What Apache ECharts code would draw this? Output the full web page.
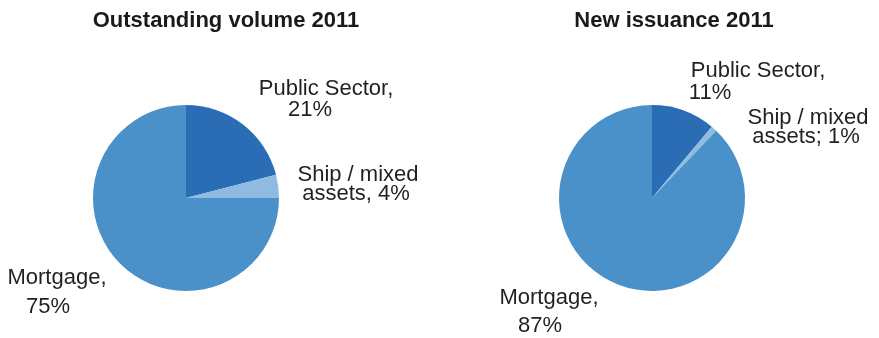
<!DOCTYPE html>
<html>
<head>
<meta charset="utf-8">
<script src="https://cdn.jsdelivr.net/npm/echarts@6/dist/echarts.min.js"></script>
<style>
  html, body { margin: 0; padding: 0; background: #fff; }
  #chart { width: 879px; height: 338px; }
</style>
</head>
<body>
<div id="chart"></div>
<script>
// Segment names and shares (percent) for the two pies
const categories = ['Public Sector', 'Ship / mixed assets', 'Mortgage'];
const outstandingValues = [21, 4, 75];
const issuanceValues = [11, 1, 87];
const titles = ['Outstanding volume 2011', 'New issuance 2011'];

// Two-line slice captions as printed beside each pie
const outstandingCaptions = [
  ['Public Sector,', outstandingValues[0] + '%'],
  ['Ship / mixed', 'assets, ' + outstandingValues[1] + '%'],
  ['Mortgage,', outstandingValues[2] + '%']
];
const issuanceCaptions = [
  ['Public Sector,', issuanceValues[0] + '%'],
  ['Ship / mixed', 'assets; ' + issuanceValues[1] + '%'],
  ['Mortgage,', issuanceValues[2] + '%']
];

const colors = ['#2a6db4', '#8fbbe3', '#4b91c9'];
const FONT = '"Liberation Sans", Arial, Helvetica, sans-serif';
const TEXT = '#231f20';

// Caption placement: [line1 centerX, line1 baseline, line2 centerX, line2 baseline]
const outstandingPlaces = [
  [326, 96, 310, 117],
  [358, 182, 356, 201],
  [57, 285, 48, 314]
];
const issuancePlaces = [
  [758, 78, 710, 100],
  [808, 125, 806, 144],
  [549, 305, 540, 333]
];

function captionGraphics(captions, places) {
  const out = [];
  captions.forEach((lines, i) => {
    const p = places[i];
    [0, 1].forEach(k => {
      out.push({
        type: 'text',
        style: {
          text: lines[k],
          x: p[k * 2],
          y: p[k * 2 + 1] - 7,
          align: 'center',
          verticalAlign: 'middle',
          font: '22px ' + FONT,
          fill: TEXT
        }
      });
    });
  });
  return out;
}

function pieSeries(values, cx) {
  return {
    type: 'pie',
    center: [cx, 198],
    radius: 93,
    startAngle: 90,
    clockwise: true,
    avoidLabelOverlap: false,
    label: { show: false },
    labelLine: { show: false },
    emphasis: { disabled: true },
    itemStyle: { borderWidth: 0 },
    data: categories.map((name, i) => ({
      name: name,
      value: values[i],
      itemStyle: { color: colors[i] }
    }))
  };
}

const chart = echarts.init(document.getElementById('chart'), null, { renderer: 'canvas' });
chart.setOption({
  animation: false,
  backgroundColor: '#ffffff',
  title: [
    { text: titles[0], left: 221, top: 5, textAlign: 'center',
      textStyle: { fontFamily: FONT, fontWeight: 'bold', fontSize: 22, color: '#1a1a1a' } },
    { text: titles[1], left: 669, top: 5, textAlign: 'center',
      textStyle: { fontFamily: FONT, fontWeight: 'bold', fontSize: 22, color: '#1a1a1a' } }
  ],
  series: [
    pieSeries(outstandingValues, 186),
    pieSeries(issuanceValues, 652)
  ],
  graphic: captionGraphics(outstandingCaptions, outstandingPlaces)
    .concat(captionGraphics(issuanceCaptions, issuancePlaces))
});
</script>
</body>
</html>
